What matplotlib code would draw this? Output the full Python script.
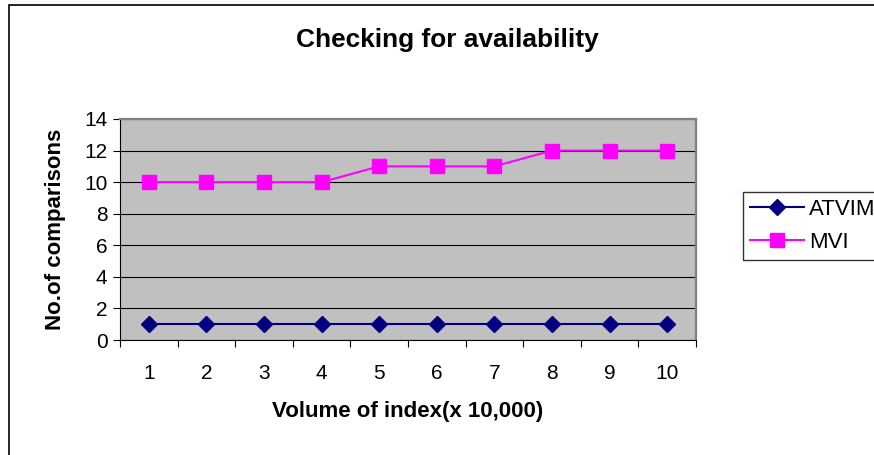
import numpy as np
import matplotlib.pyplot as plt
from matplotlib.patches import Rectangle

plt.rcParams['font.family'] = ['Liberation Sans', 'DejaVu Sans']

volumes = ['1', '2', '3', '4', '5', '6', '7', '8', '9', '10']
atvim = [1, 1, 1, 1, 1, 1, 1, 1, 1, 1]
mvi = [10, 10, 10, 10, 11, 11, 11, 12, 12, 12]

fig = plt.figure(figsize=(8.74, 4.55), dpi=100)
# outer chart border (clipped on right and bottom, as in the original)
fig.patches.append(Rectangle((9 / 874, -0.1), 1.2, 1 - 5 / 455 + 0.1,
                             transform=fig.transFigure, fill=False,
                             edgecolor='black', linewidth=1.2))

ax = fig.add_axes([120 / 874, 1 - 340 / 455, 576 / 874, 221 / 455])
ax.set_facecolor('#C0C0C0')

x = np.arange(len(volumes))
ax.plot(x, atvim, color='#000080', marker='D', markersize=8, linewidth=1.5,
        label='ATVIM', zorder=3)
ax.plot(x, mvi, color='#FF00FF', marker='s', markersize=10, linewidth=1.5,
        label='MVI', zorder=3)

ax.set_xlim(-0.5, len(volumes) - 0.5)
ax.set_ylim(0, 14)
ax.set_yticks(range(0, 15, 2))
ax.yaxis.grid(True, color='black', linewidth=0.8)
ax.set_axisbelow(True)

ax.set_xticks(x)
ax.set_xticklabels(volumes)
ax.set_xticks(np.arange(-0.5, len(volumes), 1), minor=True)
ax.tick_params(axis='x', which='major', length=0, pad=17, labelsize=15)
ax.tick_params(axis='x', which='minor', length=5, width=0.8, direction='out')
ax.tick_params(axis='y', length=5, width=0.8, labelsize=15, pad=4)

for side in ['top', 'right']:
    ax.spines[side].set_color('#808080')
    ax.spines[side].set_linewidth(1.6)
for side in ['left', 'bottom']:
    ax.spines[side].set_color('black')
    ax.spines[side].set_linewidth(0.8)

ax.set_xlabel('Volume of index(x 10,000)', fontsize=16, fontweight='bold')
ax.set_ylabel('No.of comparisons', fontsize=16, fontweight='bold')
ax.xaxis.label.set_va('center')
ax.yaxis.label.set_va('center')
ax.xaxis.set_label_coords(0.5, -(411 - 340) / 221)
ax.yaxis.set_label_coords((55 - 120) / 576, 0.5)

fig.text(447 / 874, 1 - 40 / 455, 'Checking for availability', fontsize=18.9,
         fontweight='bold', ha='center', va='center')

# legend runs off the right edge, as in the original
leg = fig.legend(loc='upper left', bbox_to_anchor=(743 / 874, 1 - 192 / 455),
                 fontsize=16, frameon=True, fancybox=False, borderpad=0.3,
                 handlelength=2.45, handletextpad=0.23, labelspacing=0.55,
                 borderaxespad=0)
leg.get_frame().set_edgecolor('black')
leg.get_frame().set_linewidth(1.0)

fig.savefig('out.png', dpi=100)
